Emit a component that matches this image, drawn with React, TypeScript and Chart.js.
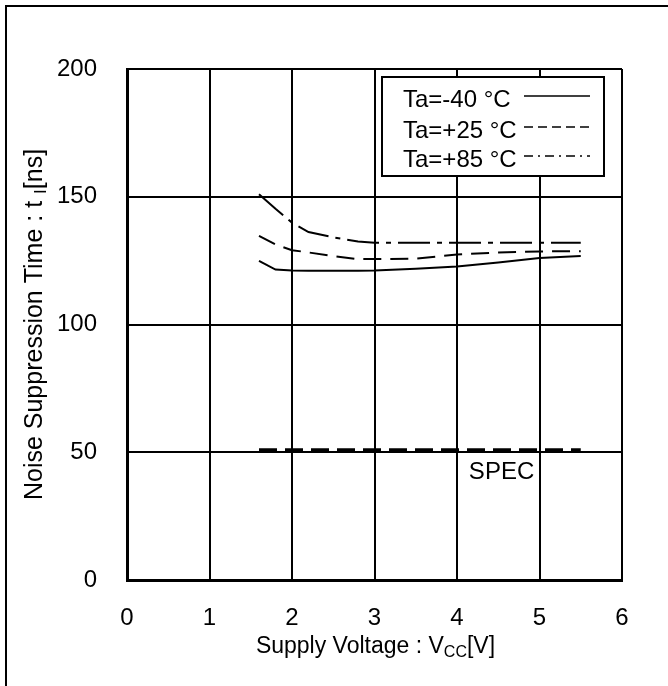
import React, { useEffect, useRef } from "react";
import { Chart, registerables } from "chart.js";

Chart.register(...registerables);

// ---- data ----
const VCC = [1.6, 1.8, 2.0, 2.2, 2.5, 2.8, 3.0, 3.5, 4.0, 4.5, 5.0, 5.5];
const TA_M40 = [124.9, 121.5, 121.1, 121.0, 121.0, 121.0, 121.1, 121.8, 122.7, 124.3, 126.0, 126.8];
const TA_P25 = [134.7, 131.3, 129.1, 128.2, 126.8, 125.6, 125.6, 125.8, 127.4, 128.2, 128.6, 128.7];
const TA_P85 = [151.0, 145.3, 139.9, 136.2, 134.1, 132.5, 132.0, 132.0, 132.0, 132.0, 132.0, 132.0];
const SPEC_VCC = [1.6, 5.5];
const SPEC_NS = [51, 51];
const SERIES_LABELS = ["Ta=-40 °C", "Ta=+25 °C", "Ta=+85 °C"];
const X_TICKS = [0, 1, 2, 3, 4, 5, 6];
const Y_TICKS = [0, 50, 100, 150, 200];
const SPEC_TEXT = "SPEC";
const SPEC_TEXT_AT = [4.54, 42];

const FONT_FAMILY = "'Liberation Sans', Arial, Helvetica, sans-serif";
const FS = 24;

type Part = { t: string; sub?: boolean };

function drawRich(ctx: CanvasRenderingContext2D, parts: Part[], cx: number, baseY: number, size: number, subSize: number) {
  const mainFont = `${size}px ${FONT_FAMILY}`;
  const subFont = `${subSize}px ${FONT_FAMILY}`;
  let total = 0;
  const widths = parts.map((p) => {
    ctx.font = p.sub ? subFont : mainFont;
    const w = ctx.measureText(p.t).width;
    total += w;
    return w;
  });
  let x = cx - total / 2;
  ctx.textAlign = "left";
  ctx.textBaseline = "alphabetic";
  parts.forEach((p, i) => {
    ctx.font = p.sub ? subFont : mainFont;
    ctx.fillText(p.t, x, p.sub ? baseY + 4 : baseY);
    x += widths[i];
  });
}

const LEGEND_DASH: number[][] = [[], [9, 5], [9, 5, 2, 5]];

const decorPlugin = {
  id: "decor",
  beforeDraw(chart: any) {
    const ctx = chart.ctx as CanvasRenderingContext2D;
    ctx.save();
    ctx.fillStyle = "#fff";
    ctx.fillRect(0, 0, chart.width, chart.height);
    ctx.fillStyle = "#000";
    ctx.fillRect(5, 5, 2, chart.height);
    ctx.fillRect(5, 5, chart.width, 2);
    ctx.restore();
  },
  afterDatasetsDraw(chart: any) {
    const ctx = chart.ctx as CanvasRenderingContext2D;
    const area = chart.chartArea;
    const xs = chart.scales.x;
    const ys = chart.scales.y;
    ctx.save();
    // SPEC label
    ctx.fillStyle = "#000";
    ctx.font = `${FS}px ${FONT_FAMILY}`;
    ctx.textAlign = "center";
    ctx.textBaseline = "middle";
    ctx.fillText(SPEC_TEXT, xs.getPixelForValue(SPEC_TEXT_AT[0]), ys.getPixelForValue(SPEC_TEXT_AT[1]));

    // legend box
    const bw = 222;
    const bh = 99;
    const bx = area.right - 18 - bw;
    const by = area.top + 8;
    ctx.fillStyle = "#fff";
    ctx.fillRect(bx, by, bw, bh);
    ctx.strokeStyle = "#000";
    ctx.lineWidth = 2;
    ctx.setLineDash([]);
    ctx.strokeRect(bx, by, bw, bh);
    const rows = [23, 54, 83];
    SERIES_LABELS.forEach((lab, i) => {
      const y = by + rows[i];
      ctx.fillStyle = "#000";
      ctx.font = `${FS}px ${FONT_FAMILY}`;
      ctx.textAlign = "left";
      ctx.textBaseline = "middle";
      ctx.fillText(lab, bx + 21, y);
      ctx.beginPath();
      ctx.setLineDash(LEGEND_DASH[i]);
      ctx.lineWidth = 1.6;
      ctx.moveTo(bx + 142, y - 4);
      ctx.lineTo(bx + 208, y - 4);
      ctx.stroke();
    });
    ctx.setLineDash([]);

    // axis titles
    ctx.fillStyle = "#000";
    const cx = (area.left + area.right) / 2 + 1;
    drawRich(ctx, [{ t: "Supply Voltage : V" }, { t: "CC", sub: true }, { t: "[V]" }], cx, area.bottom + 73, 23, 16);

    ctx.translate(42, (area.top + area.bottom) / 2);
    ctx.rotate(-Math.PI / 2);
    drawRich(ctx, [{ t: "Noise Suppression Time : t " }, { t: "I", sub: true }, { t: "[ns]" }], 0, 0, 25, 17);
    ctx.restore();
  },
};

export default function App() {
  const ref = useRef<HTMLCanvasElement>(null);
  useEffect(() => {
    const canvas = ref.current!;
    const mk = (xv: number[], yv: number[]) => xv.map((v, i) => ({ x: v, y: yv[i] }));
    const chart = new Chart(canvas, {
      type: "line",
      data: {
        datasets: [
          { label: SERIES_LABELS[0], data: mk(VCC, TA_M40), borderColor: "#000", borderWidth: 2, pointRadius: 0, tension: 0, fill: false },
          { label: SERIES_LABELS[1], data: mk(VCC, TA_P25), borderColor: "#000", borderWidth: 2, borderDash: [18, 9], pointRadius: 0, tension: 0, fill: false },
          { label: SERIES_LABELS[2], data: mk(VCC, TA_P85), borderColor: "#000", borderWidth: 2, borderDash: [32, 7, 5, 7], pointRadius: 0, tension: 0, fill: false },
          { label: "SPEC", data: mk(SPEC_VCC, SPEC_NS), borderColor: "#000", borderWidth: 3, borderDash: [18, 8], pointRadius: 0, tension: 0, fill: false },
        ],
      },
      options: {
        animation: false,
        responsive: false,
        layout: { padding: { left: 0, top: 69, right: 46, bottom: 0 } },
        plugins: { legend: { display: false }, tooltip: { enabled: false }, title: { display: false } },
        scales: {
          x: {
            type: "linear",
            min: 0,
            max: 6,
            afterFit: (s: any) => {
              s.height = 106;
            },
            afterBuildTicks: (s: any) => {
              s.ticks = X_TICKS.map((v) => ({ value: v }));
            },
            grid: { color: "#000", lineWidth: 2, drawTicks: false },
            border: { color: "#000", width: 3 },
            ticks: { color: "#000", font: { family: FONT_FAMILY, size: FS }, padding: 24, maxRotation: 0, autoSkip: false },
          },
          y: {
            type: "linear",
            min: 0,
            max: 200,
            afterFit: (s: any) => {
              s.width = 127;
            },
            afterBuildTicks: (s: any) => {
              s.ticks = Y_TICKS.map((v) => ({ value: v }));
            },
            grid: { color: "#000", lineWidth: 2, drawTicks: false },
            border: { color: "#000", width: 3 },
            ticks: { color: "#000", font: { family: FONT_FAMILY, size: FS }, padding: 30, autoSkip: false },
          },
        },
      },
      plugins: [decorPlugin],
    } as any);
    return () => chart.destroy();
  }, []);
  return (
    <div style={{ position: "absolute", left: 0, top: 0, width: 668, height: 686, background: "#fff" }}>
      <canvas ref={ref} width={668} height={686} style={{ width: 668, height: 686, display: "block" }} />
    </div>
  );
}
